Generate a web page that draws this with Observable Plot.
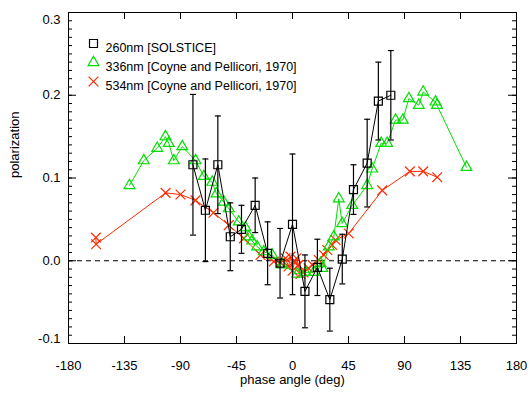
<!DOCTYPE html>
<html>
<head>
<meta charset="utf-8">
<script src="https://cdn.jsdelivr.net/npm/d3@7"></script>
<script src="https://cdn.jsdelivr.net/npm/@observablehq/plot@0.6"></script>
<style>
  html, body { margin: 0; padding: 0; background: #fff; }
</style>
</head>
<body>
<div id="chart"></div>
<script>
// ---- data ----
const solsticeAngle = [-80, -70, -60, -50, -41, -30, -20, -10, 0, 10, 20, 30, 40, 49, 60, 69, 79];
const solsticePol   = [0.116, 0.061, 0.116, 0.029, 0.038, 0.067, 0.009, -0.003, 0.044, -0.037, -0.008, -0.047, 0.002, 0.086, 0.118, 0.193, 0.200];
const solsticeErr   = [0.085, 0.062, 0.059, 0.041, 0.029, 0.033, 0.038, 0.042, 0.085, 0.044, 0.034, 0.038, 0.030, 0.030, 0.053, 0.047, 0.054];

const coyne336Angle = [-131, -119.5, -108.7, -102.1, -99.4, -95.4, -88.6, -77.9, -71.3, -64.5, -61.1, -55.2, -51.2, -43.2, -37.8, -35.1, -32.4, -28.4, -23.1, -16.3, -8.3, 3.8, 10.4, 17.1, 22.5, 23.9, 29.2, 33.2, 37.2, 39.9, 48.0, 60.0, 64.0, 71.3, 76.1, 82.8, 88.6, 93.5, 101.5, 105.0, 114.9, 116.1, 139.8];
const coyne336Pol   = [0.091, 0.121, 0.136, 0.150, 0.142, 0.121, 0.138, 0.121, 0.102, 0.095, 0.081, 0.071, 0.063, 0.047, 0.040, 0.029, 0.024, 0.017, 0.011, 0.007, -0.005, -0.016, -0.014, -0.014, -0.003, -0.009, 0.017, 0.029, 0.075, 0.045, 0.067, 0.091, 0.111, 0.142, 0.142, 0.170, 0.170, 0.196, 0.188, 0.204, 0.192, 0.188, 0.113];

const coyne534Angle = [-158, -157.8, -102, -90, -78, -63.5, -51.2, -39.1, -25.7, -15, -9.6, -5.6, -3.2, -1.6, 0, 1.6, 3.2, 4.8, 6.4, 8.8, 12.9, 16, 21.1, 25.2, 27.9, 31.9, 34.6, 45.2, 72.1, 94.3, 105, 116.3];
const coyne534Pol   = [0.028, 0.020, 0.082, 0.080, 0.073, 0.058, 0.043, 0.027, 0.007, -0.001, -0.002, 0.003, -0.007, 0.005, -0.012, -0.002, 0.003, -0.005, -0.016, -0.014, -0.009, -0.005, 0.001, 0.007, 0.013, 0.019, 0.025, 0.033, 0.085, 0.108, 0.108, 0.101];

const legendLabels = ["260nm [SOLSTICE]", "336nm [Coyne and Pellicori, 1970]", "534nm [Coyne and Pellicori, 1970]"];
const legendSymbols = ["square", "triangle", "times"];
const legendColors = ["#000000", "#00dd00", "#ff2a00"];

const xTicks = [-180, -135, -90, -45, 0, 45, 90, 135, 180];
const yTicks = [-0.1, 0.0, 0.1, 0.2, 0.3];
const yMinorTicks = d3.range(-10, 31).map(i => i / 100);

const xLabel = "phase angle (deg)";
const yLabel = "polarization";

// ---- build tables ----
const black = solsticeAngle.map((x, i) => ({x, y: solsticePol[i], e: solsticeErr[i]}));
const green = coyne336Angle.map((x, i) => ({x, y: coyne336Pol[i]}));
const red = coyne534Angle.map((x, i) => ({x, y: coyne534Pol[i]}));

const W = 530, H = 400;
const mL = 68, mR = 14, mT = 12, mB = 57;
const plotW = W - mL - mR, plotH = H - mT - mB;

const capSymbol = {
  draw(context, size) {
    const r = Math.sqrt(size / Math.PI);
    context.moveTo(-r, 0);
    context.lineTo(r, 0);
  }
};

const legendMarks = legendLabels.flatMap((label, i) => [
  Plot.dot([label], {frameAnchor: "top-left", dx: 25, dy: 31 + i * 19, symbol: legendSymbols[i], r: legendSymbols[i] === "triangle" ? 4 : 4.5, stroke: legendColors[i], strokeWidth: 1.2, fill: "none"}),
  Plot.text([label], {frameAnchor: "top-left", dx: 37, dy: 31 + i * 19, text: d => d, textAnchor: "start", fill: "#000", fontSize: 12.5})
]);

const fmtY = d => d.toFixed(1);

const chart = Plot.plot({
  width: W,
  height: H,
  marginLeft: mL,
  marginRight: mR,
  marginTop: mT,
  marginBottom: mB,
  style: {fontFamily: "'Liberation Sans', Arial, Helvetica, sans-serif", fontSize: "13px", background: "#fff", color: "#000"},
  x: {domain: [-180, 180]},
  y: {domain: [-0.1, 0.3]},
  marks: [
    Plot.ruleY([0], {stroke: "#000", strokeDasharray: "5,4", strokeWidth: 1}),
    // ticks (inward)
    Plot.tickX(xTicks, {x: d => d, insetTop: plotH - 7, stroke: "#000"}),
    Plot.tickX(xTicks, {x: d => d, insetBottom: plotH - 7, stroke: "#000"}),
    Plot.tickY(yTicks, {y: d => d, insetRight: plotW - 8, stroke: "#000"}),
    Plot.tickY(yTicks, {y: d => d, insetLeft: plotW - 8, stroke: "#000"}),
    Plot.tickY(yMinorTicks, {y: d => d, insetRight: plotW - 4, stroke: "#000"}),
    Plot.tickY(yMinorTicks, {y: d => d, insetLeft: plotW - 4, stroke: "#000"}),
    Plot.axisX({ticks: xTicks, tickSize: 0, tickPadding: 17, tickFormat: d => String(d), label: null, fontSize: 13}),
    Plot.axisY({ticks: yTicks.slice(1, 4), tickSize: 0, tickPadding: 8, tickFormat: fmtY, label: null, fontSize: 13}),
    Plot.axisY({ticks: [yTicks[4]], tickSize: 0, tickPadding: 8, tickFormat: fmtY, label: null, fontSize: 13, dy: 7}),
    Plot.axisY({ticks: [yTicks[0]], tickSize: 0, tickPadding: 8, tickFormat: fmtY, label: null, fontSize: 13, dy: -5}),
    Plot.text([xLabel], {frameAnchor: "bottom", dy: 40, text: d => d, fontSize: 13}),
    Plot.text([yLabel], {frameAnchor: "left", dx: -54, rotate: -90, text: d => d, fontSize: 13}),
    // red series
    Plot.line(red, {x: "x", y: "y", stroke: legendColors[2], strokeWidth: 1}),
    Plot.dot(red, {x: "x", y: "y", symbol: "times", r: 4.5, stroke: legendColors[2], strokeWidth: 1.2}),
    // green series
    Plot.line(green, {x: "x", y: "y", stroke: legendColors[1], strokeWidth: 1}),
    Plot.dot(green, {x: "x", y: "y", symbol: "triangle", r: 4, stroke: legendColors[1], strokeWidth: 1.2, fill: "none"}),
    // black series with error bars
    Plot.ruleX(black, {x: "x", y1: d => d.y - d.e, y2: d => d.y + d.e, stroke: "#000", strokeWidth: 1.2}),
    Plot.dot(black, {x: "x", y: d => d.y - d.e, symbol: capSymbol, r: 3, stroke: "#000", strokeWidth: 1.2}),
    Plot.dot(black, {x: "x", y: d => d.y + d.e, symbol: capSymbol, r: 3, stroke: "#000", strokeWidth: 1.2}),
    Plot.line(black, {x: "x", y: "y", stroke: "#000", strokeWidth: 1}),
    Plot.dot(black, {x: "x", y: "y", symbol: "square", r: 4.5, stroke: "#000", strokeWidth: 1.2, fill: "none"}),
    ...legendMarks,
    Plot.frame({stroke: "#000", strokeWidth: 1})
  ]
});

document.getElementById("chart").appendChild(chart);
</script>
</body>
</html>
